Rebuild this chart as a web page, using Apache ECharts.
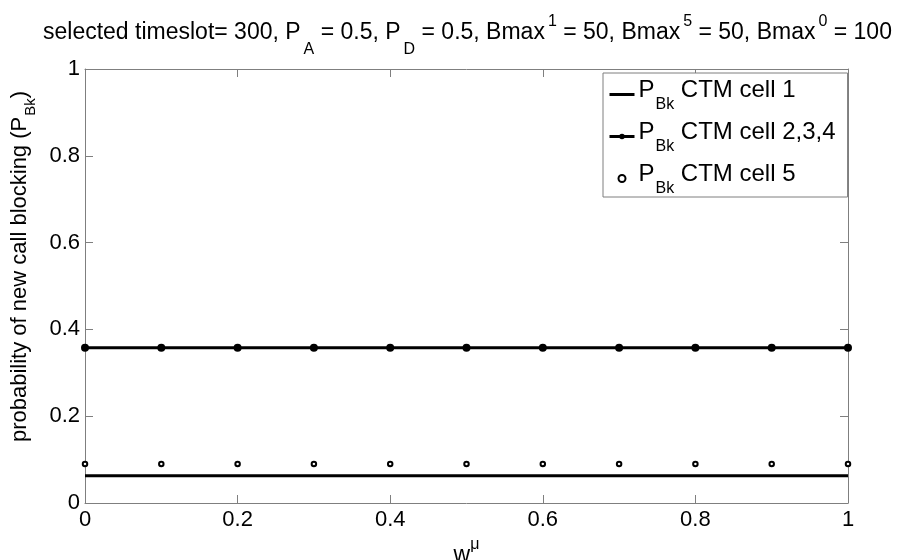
<!DOCTYPE html>
<html>
<head>
<meta charset="utf-8">
<script src="https://cdn.jsdelivr.net/npm/echarts@6/dist/echarts.min.js"></script>
<style>
  html, body { margin: 0; padding: 0; background: #fff; }
  #chart { width: 915px; height: 560px; }
</style>
</head>
<body>
<div id="chart"></div>
<script>
// Weight values w^mu along the horizontal axis
const weights = [0, 0.1, 0.2, 0.3, 0.4, 0.5, 0.6, 0.7, 0.8, 0.9, 1.0];

// New-call blocking probability per CTM cell group
const blockingCell1 = [0.063, 0.063, 0.063, 0.063, 0.063, 0.063, 0.063, 0.063, 0.063, 0.063, 0.063];
const blockingCell234 = [0.358, 0.358, 0.358, 0.358, 0.358, 0.358, 0.358, 0.358, 0.358, 0.358, 0.358];
const blockingCell5 = [0.09, 0.09, 0.09, 0.09, 0.09, 0.09, 0.09, 0.09, 0.09, 0.09, 0.09];

// Legend entries
const seriesNames = ['CTM cell 1', 'CTM cell 2,3,4', 'CTM cell 5'];

// Axis tick settings
const axisMin = 0;
const axisMax = 1;
const axisStep = 0.2;

const FONT = 'Liberation Sans, Arial, sans-serif';
const AXIS_GREY = '#7f7f7f';

function pairs(xs, ys) {
  return xs.map((x, i) => [x, ys[i]]);
}

// Rich-text token: tokens are centred on the line, so unequal top/bottom
// padding shifts a token down (sub) or up (sup) by half the difference.
function txt(size, lineHeight, padding) {
  return {
    fontFamily: FONT, fontSize: size, fontWeight: 'normal', lineHeight: lineHeight,
    color: '#000', padding: padding
  };
}

const titleRich = {
  t: txt(23, 24, [0, 0, 0, 0]),
  sub: txt(16, 16, [34, 0, 0, 3]),
  sup: txt(16, 16, [0, 0, 22, 3])
};
const legendRich = {
  t: txt(24, 22, [0, 0, 8, 0]),
  s: txt(16, 14, [21, 0, 0, 1])
};
const xNameRich = {
  t: txt(23, 24, [8, 0, 0, 0]),
  sup: txt(16, 16, [0, 0, 14, 0])
};
const yNameRich = {
  t: txt(22, 22, [0, 0, 0, 0]),
  sub: txt(15, 14, [22, 0, 0, 1])
};

const chart = echarts.init(document.getElementById('chart'), null, { renderer: 'canvas' });

const frameAxis = {
  type: 'value',
  min: axisMin,
  max: axisMax,
  interval: axisStep,
  axisLine: { show: true, onZero: false, lineStyle: { color: AXIS_GREY, width: 1 } },
  axisTick: { show: true, inside: true, length: 8, lineStyle: { color: AXIS_GREY } },
  axisLabel: { show: false },
  splitLine: { show: false }
};

chart.setOption({
  animation: false,
  backgroundColor: '#fff',
  title: {
    left: 38,
    top: 16,
    text: '{t|selected timeslot= 300, P}{sub|A}{t| = 0.5, P}{sub|D}{t| = 0.5, Bmax}{sup|1}{t| = 50, Bmax}{sup|5}{t| = 50, Bmax}{sup|0}{t| = 100}',
    textStyle: { fontWeight: 'normal', rich: titleRich }
  },
  grid: { left: 85, right: 67, top: 69, bottom: 57, containLabel: false, outerBoundsMode: 'none' },
  legend: {
    orient: 'vertical',
    left: 603,
    top: 73,
    data: [
      { name: seriesNames[0], itemStyle: { opacity: 0 } },
      { name: seriesNames[1] },
      { name: seriesNames[2] }
    ],
    backgroundColor: '#fff',
    borderColor: AXIS_GREY,
    borderWidth: 1,
    borderRadius: 0,
    padding: [3, 12, 0, 5],
    itemGap: 5,
    itemWidth: 25,
    itemHeight: 7,
    lineStyle: { width: 3 },
    formatter: name => '{t|P}{s|Bk}{t| ' + name + '}',
    textStyle: { rich: legendRich, padding: [0, 0, 0, -1] }
  },
  xAxis: [
    Object.assign({}, frameAxis, {
      position: 'bottom',
      name: '{t|w}{sup|μ}',
      nameLocation: 'middle',
      nameGap: 26,
      nameTextStyle: { rich: xNameRich },
      axisLabel: { show: true, margin: 6, color: '#000', fontFamily: FONT, fontSize: 22 }
    }),
    Object.assign({ position: 'top' }, frameAxis)
  ],
  yAxis: [
    Object.assign({}, frameAxis, {
      position: 'left',
      name: '{t|probability of new call blocking (P}{sub|Bk}{t|)}',
      nameLocation: 'middle',
      nameRotate: 90,
      nameGap: 36,
      nameTextStyle: { rich: yNameRich, padding: [0, 0, 0, 39] },
      axisLabel: { show: true, margin: 5, color: '#000', fontFamily: FONT, fontSize: 22 }
    }),
    Object.assign({ position: 'right' }, frameAxis)
  ],
  series: [
    {
      name: seriesNames[0],
      type: 'line',
      data: pairs(weights, blockingCell1),
      symbol: 'none',
      lineStyle: { color: '#000', width: 3 },
      itemStyle: { color: '#000' },
      z: 3
    },
    {
      name: seriesNames[1],
      type: 'line',
      data: pairs(weights, blockingCell234),
      symbol: 'circle',
      symbolSize: 8,
      lineStyle: { color: '#000', width: 3 },
      itemStyle: { color: '#000' },
      z: 3
    },
    {
      name: seriesNames[2],
      type: 'scatter',
      data: pairs(weights, blockingCell5),
      symbol: 'circle',
      symbolSize: 4.5,
      itemStyle: { color: '#fff', borderColor: '#000', borderWidth: 2, opacity: 1 },
      z: 4
    }
  ]
});
</script>
</body>
</html>
